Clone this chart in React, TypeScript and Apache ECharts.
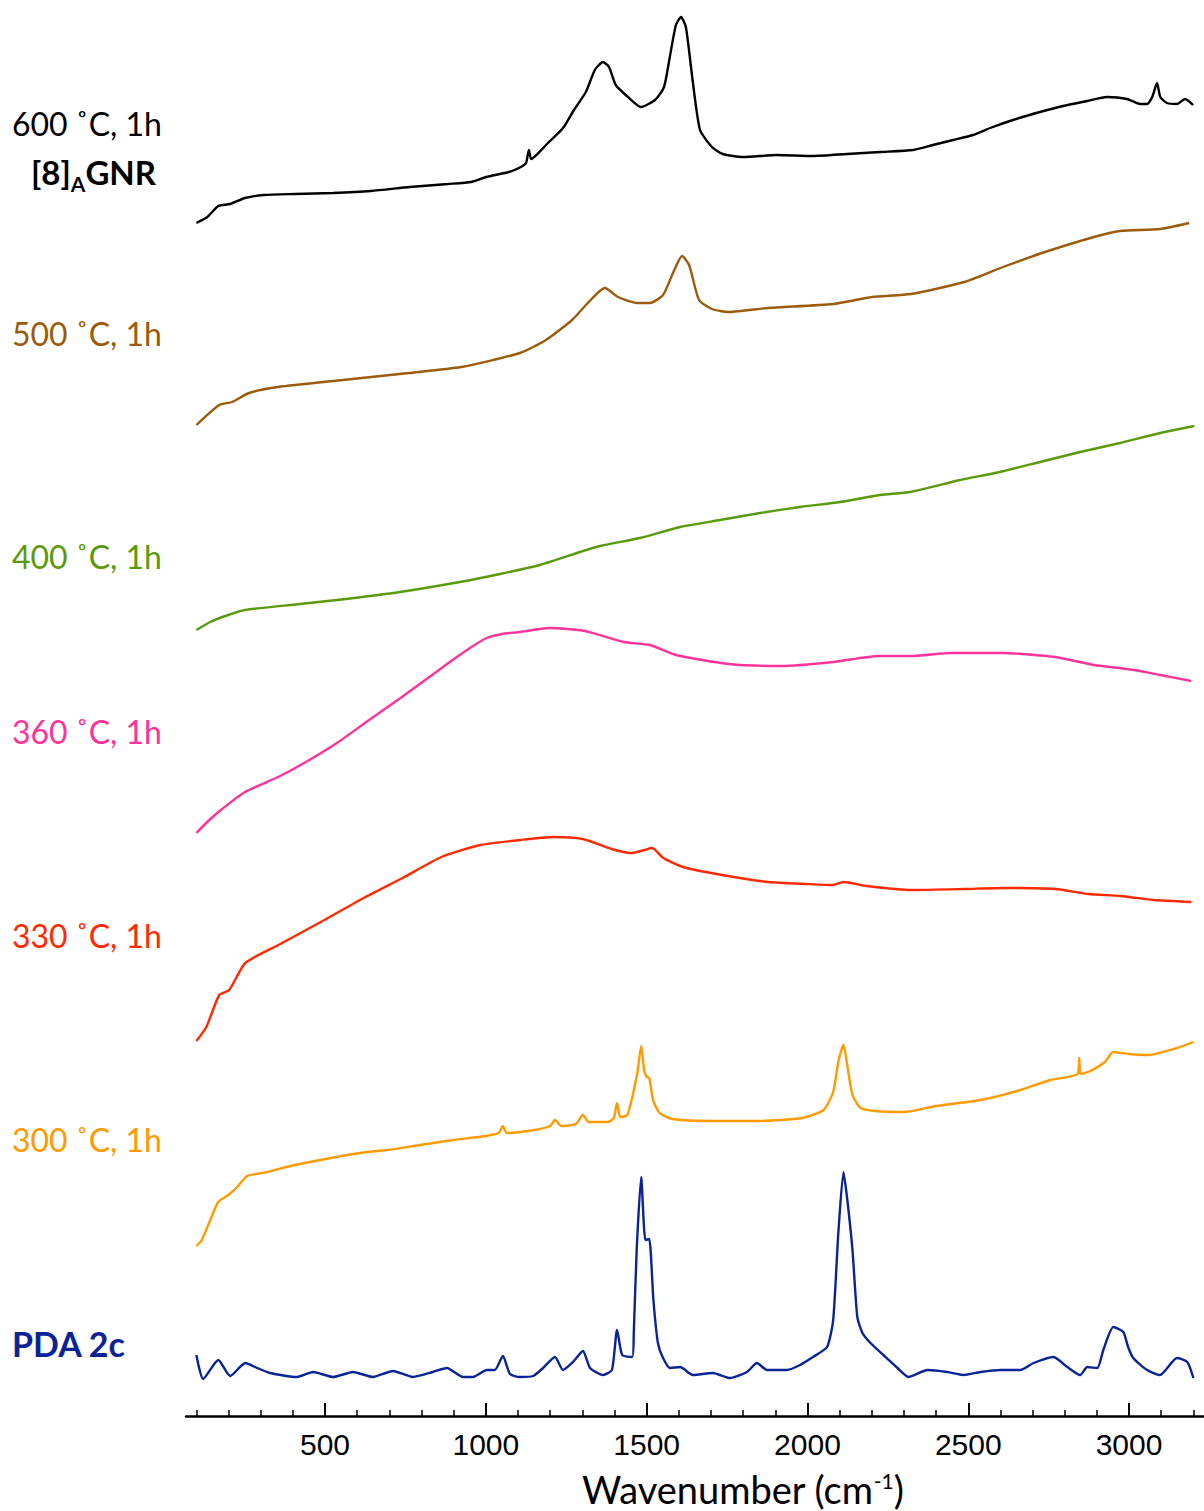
import React, { useEffect, useRef } from "react";
import * as echarts from "echarts";

// Wavenumber window of the plot (cm-1)
const WAVENUMBER_MIN = 67.7;
const WAVENUMBER_MAX = 3233;
const MAJOR_TICKS = [500, 1000, 1500, 2000, 2500, 3000];
const MINOR_TICKS = [
  100, 200, 300, 400, 600, 700, 800, 900, 1100, 1200, 1300, 1400, 1600, 1700,
  1800, 1900, 2100, 2200, 2300, 2400, 2600, 2700, 2800, 2900, 3100, 3200,
];

// Raman spectra, [wavenumber, intensity (a.u.)], each relative to its own start
const pda2c: [number, number][] = [
  [100, 21], [121, -3], [168, 16], [205, 0], [252, 13], [289, 8], [329, 3],
  [413, -1], [463, 4], [525, -1], [587, 4], [649, -1], [711, 5], [773, -1],
  [835, 4], [879, 8], [929, -1], [960, -1], [1003, 6], [1028, 6], [1053, 20],
  [1075, 2], [1106, -1], [1147, 0], [1178, 8], [1215, 19], [1240, 6],
  [1271, 14], [1302, 25], [1324, 8], [1364, 1], [1392, 6], [1408, 46],
  [1424, 21], [1455, 19], [1460, 43], [1469, 126], [1483, 199], [1496, 136],
  [1508, 137], [1521, 76], [1535, 33], [1551, 18], [1573, 8], [1604, 9],
  [1644, 1], [1706, 3], [1759, -2], [1812, 4], [1843, 13], [1874, 6],
  [1936, 6], [1977, 11], [2017, 19], [2061, 29], [2080, 56], [2096, 143],
  [2112, 204], [2124, 176], [2140, 126], [2155, 59], [2171, 43], [2196, 33],
  [2236, 21], [2280, 8], [2314, -1], [2373, 6], [2435, 4], [2485, 1],
  [2538, 4], [2600, 6], [2662, 6], [2703, 13], [2765, 19], [2808, 9],
  [2848, 1], [2870, 9], [2901, 8], [2920, 26], [2951, 49], [2982, 44],
  [2997, 29], [3013, 18], [3056, 6], [3096, 1], [3149, 18], [3181, 14],
  [3200, -2],
];

const anneal300: [number, number][] = [
  [100, 0], [117, 6], [143, 26], [168, 44], [199, 51], [227, 59], [258, 70],
  [320, 74], [392, 80], [485, 86], [609, 93], [693, 96], [795, 101],
  [898, 106], [1000, 110], [1040, 113], [1053, 120], [1065, 113], [1150, 116],
  [1200, 120], [1215, 126], [1235, 120], [1280, 122], [1302, 131], [1320, 124],
  [1380, 124], [1398, 128], [1408, 143], [1418, 129], [1440, 131], [1470, 171],
  [1483, 200], [1492, 176], [1500, 169], [1508, 168], [1520, 146], [1540, 133],
  [1580, 127], [1700, 125], [1850, 125], [1984, 128], [2050, 136], [2080, 154],
  [2097, 186], [2112, 201], [2125, 178], [2140, 151], [2165, 138], [2210, 135],
  [2300, 134], [2400, 140], [2538, 146], [2662, 156], [2755, 166], [2840, 172],
  [2845, 188], [2850, 172], [2880, 175], [2925, 184], [2951, 194], [3000, 192],
  [3060, 191], [3140, 197], [3200, 204],
];

const anneal330: [number, number][] = [
  [100, 0], [131, 14], [171, 46], [202, 51], [252, 78], [355, 96], [498, 121],
  [620, 143], [741, 163], [862, 184], [984, 196], [1108, 201], [1208, 204],
  [1301, 202], [1391, 192], [1453, 188], [1493, 191], [1517, 193], [1552, 183],
  [1613, 174], [1735, 166], [1878, 159], [2000, 157], [2080, 156], [2112, 159],
  [2184, 155], [2327, 151], [2489, 152], [2610, 153], [2771, 152], [2874, 147],
  [2973, 145], [3076, 141], [3194, 139],
];

const anneal360: [number, number][] = [
  [100, 0], [140, 13], [180, 24], [251, 41], [354, 56], [435, 70], [537, 90],
  [637, 113], [739, 136], [820, 155], [901, 174], [960, 187], [1003, 195],
  [1050, 199], [1106, 201], [1196, 205], [1308, 202], [1429, 191], [1510, 188],
  [1591, 178], [1756, 169], [1918, 167], [2080, 171], [2223, 177], [2322, 177],
  [2447, 180], [2608, 180], [2770, 176], [2891, 168], [3016, 163], [3097, 158],
  [3193, 152],
];

const anneal400: [number, number][] = [
  [100, 0], [143, 8], [190, 14], [251, 20], [422, 26], [537, 30], [733, 38],
  [919, 48], [1044, 56], [1168, 65], [1293, 78], [1355, 84], [1479, 92],
  [1604, 103], [1728, 110], [1853, 117], [1977, 123], [2101, 128], [2226, 135],
  [2319, 138], [2475, 150], [2599, 158], [2723, 168], [2848, 178], [2972, 187],
  [3097, 197], [3203, 204],
];

const anneal500: [number, number][] = [
  [100, 0], [171, 20], [211, 23], [264, 32], [354, 38], [556, 45], [761, 52],
  [923, 58], [1106, 72], [1187, 85], [1268, 105], [1317, 122], [1370, 137],
  [1411, 128], [1470, 122], [1510, 122], [1551, 130], [1582, 152], [1610, 169],
  [1632, 160], [1663, 125], [1703, 116], [1756, 113], [1877, 117], [2080, 121],
  [2201, 128], [2322, 131], [2487, 143], [2608, 158], [2729, 172], [2891, 188],
  [2972, 194], [3097, 196], [3187, 202],
];

const anneal600: [number, number][] = [
  [100, 0], [134, 6], [168, 17], [205, 19], [251, 25], [310, 28], [407, 29],
  [525, 30], [643, 32], [764, 36], [882, 39], [954, 41], [1001, 46],
  [1072, 51], [1109, 56], [1125, 60], [1134, 73], [1141, 64], [1190, 79],
  [1240, 95], [1274, 113], [1311, 131], [1339, 153], [1364, 161], [1383, 156],
  [1404, 138], [1442, 126], [1482, 116], [1526, 123], [1554, 136], [1572, 166],
  [1591, 198], [1607, 206], [1622, 196], [1644, 140], [1666, 93], [1703, 76],
  [1737, 69], [1800, 66], [1905, 68], [2017, 67], [2123, 69], [2226, 71],
  [2328, 73], [2390, 78], [2453, 83], [2515, 88], [2568, 95], [2639, 103],
  [2723, 111], [2795, 117], [2870, 122], [2931, 126], [2994, 124], [3034, 119],
  [3056, 119], [3072, 126], [3087, 140], [3097, 126], [3118, 120], [3149, 119],
  [3174, 124], [3199, 118],
];

// Vertical offsets used to stack the spectra (same a.u. scale)
const OFFSETS = [40, 170, 375, 583, 786, 991, 1193];
const SPECTRA = [pda2c, anneal300, anneal330, anneal360, anneal400, anneal500, anneal600];
const NAMES = ["PDA 2c", "300 ˚C, 1h", "330 ˚C, 1h", "360 ˚C, 1h", "400 ˚C, 1h", "500 ˚C, 1h", "600 ˚C, 1h"];
const COLORS = ["#0A2396", "#FF9A00", "#FF2A00", "#FF3399", "#5A9A0A", "#9B5B0B", "#000000"];
// Vertical centre (px) of each trace label
const LABEL_Y = [1345, 1141, 937, 733, 558, 335, 125];

const FONT = "Lato, 'Noto Sans', sans-serif";

export default function App() {
  const ref = useRef<HTMLDivElement>(null);

  useEffect(() => {
    if (!ref.current) return;
    const chart = echarts.init(ref.current, undefined, { renderer: "svg" });

    const series = SPECTRA.map((spec, i) => ({
      name: NAMES[i],
      type: "line",
      xAxisIndex: 0,
      yAxisIndex: 0,
      data: spec.map(([w, v]) => [w, v + OFFSETS[i]]),
      showSymbol: false,
      symbol: "none",
      smooth: 0.2,
      lineStyle: { color: COLORS[i], width: 2.4 },
      itemStyle: { color: COLORS[i] },
      z: 3,
    }));

    const labels = NAMES.map((name, i) => {
      const bold = i === 0;
      return {
        type: "text",
        left: 12,
        top: LABEL_Y[i] - (bold ? 19 : 18),
        style: {
          text: name,
          font: bold ? `bold 34px ${FONT}` : `32px ${FONT}`,
          fill: COLORS[i],
          verticalAlign: "top",
        },
      };
    });

    chart.setOption({
      animation: false,
      backgroundColor: "#ffffff",
      grid: {
        left: 186,
        right: 0,
        top: 16,
        bottom: 95,
        containLabel: false,
        outerBoundsMode: "none",
      },
      xAxis: [
        {
          type: "value",
          min: WAVENUMBER_MIN,
          max: WAVENUMBER_MAX,
          position: "bottom",
          axisLine: { show: true, onZero: false, lineStyle: { color: "#000", width: 2.5 } },
          axisTick: {
            show: true,
            inside: true,
            length: 13,
            customValues: MAJOR_TICKS,
            lineStyle: { color: "#000", width: 2 },
          },
          axisLabel: {
            show: true,
            customValues: MAJOR_TICKS,
            formatter: (v: number) => String(Math.round(v)),
            fontFamily: "Liberation Sans",
            fontSize: 30,
            color: "#000",
            margin: 13,
          },
          splitLine: { show: false },
        },
        {
          type: "value",
          min: WAVENUMBER_MIN,
          max: WAVENUMBER_MAX,
          position: "bottom",
          axisLine: { show: false, onZero: false },
          axisTick: {
            show: true,
            inside: true,
            length: 6,
            customValues: MINOR_TICKS,
            lineStyle: { color: "#000", width: 1.5 },
          },
          axisLabel: { show: false },
          splitLine: { show: false },
        },
      ],
      yAxis: { type: "value", min: 0, max: 1400, show: false },
      series,
      graphic: [
        ...labels,
        {
          type: "text",
          left: 31,
          top: 155,
          style: {
            text: "{b|[8]}{s|A}{b|GNR}",
            rich: {
              b: { font: `bold 33px ${FONT}`, fill: "#000", lineHeight: 44, verticalAlign: "middle" },
              s: { font: `bold 21px ${FONT}`, fill: "#000", lineHeight: 22, verticalAlign: "bottom" },
            },
          },
        },
        {
          type: "text",
          left: 582,
          top: 1470,
          style: {
            text: "{a|Wavenumber (cm}{s|-1}{a|)}",
            rich: {
              a: { font: `38px ${FONT}`, fill: "#000", lineHeight: 42, verticalAlign: "top" },
              s: { font: `21px ${FONT}`, fill: "#000", lineHeight: 30, verticalAlign: "top" },
            },
          },
        },
      ],
    });

    return () => chart.dispose();
  }, []);

  return (
    <div
      ref={ref}
      style={{ position: "absolute", left: 0, top: 0, width: 1204, height: 1511 }}
    />
  );
}
